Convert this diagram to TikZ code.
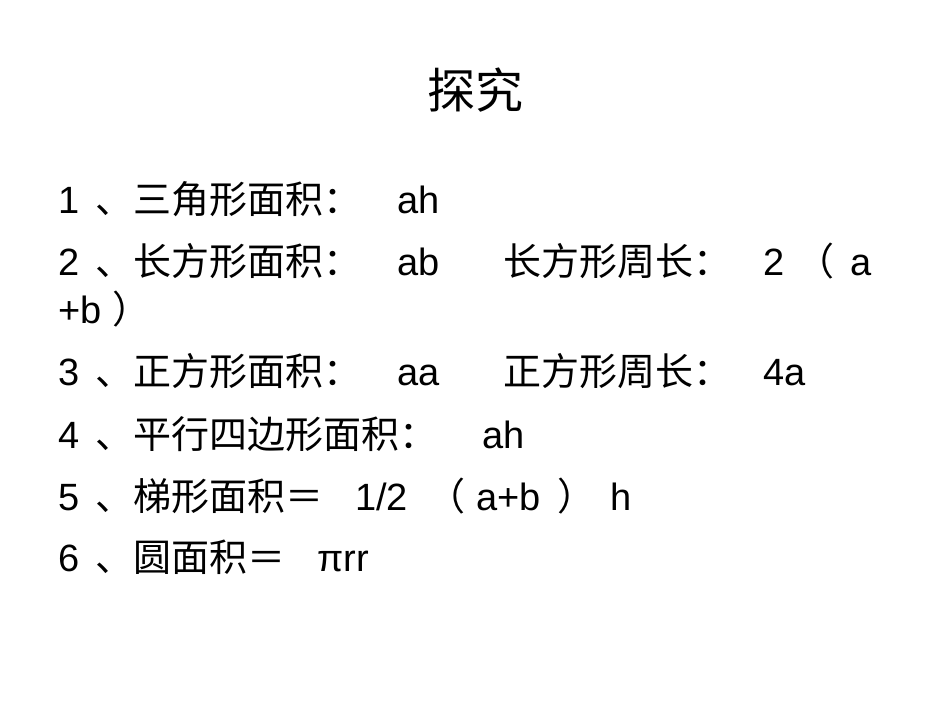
\documentclass[tikz,border=0pt]{standalone}
\usepackage{fontspec}
\setmainfont{Liberation Sans}
\newfontfamily\cjk{Noto Sans CJK SC}
\tikzset{seg/.style={anchor=base west,inner sep=0pt,font=\fontsize{38}{40}\selectfont}}
\newcommand{\sg}[4]{\node[seg] (#1) at (#2pt,{713pt-#3pt-14pt}) {#4};}
\begin{document}
\begin{tikzpicture}[x=1pt,y=1pt]
\useasboundingbox (0,0) rectangle (950,713);
\node[inner sep=0pt,font=\cjk\fontsize{48}{50}\selectfont] (title) at (475,{713-90}) {探究};
\sg{a1}{58}{200}{1}
\sg{a2}{95}{200}{\cjk 、三角形面积：}
\sg{a3}{397}{200}{ah}
\sg{b1}{58}{262}{2}
\sg{b2}{95}{262}{\cjk 、长方形面积：}
\sg{b3}{397}{262}{ab}
\sg{b4}{503}{262}{\cjk 长方形周长：}
\sg{b5}{763}{262}{2}
\sg{b6}{796}{262}{\cjk （}
\sg{b7}{850}{262}{a}
\sg{c1}{58}{310}{+b}
\sg{c2}{112}{310}{\cjk ）}
\sg{d1}{58}{372}{3}
\sg{d2}{95}{372}{\cjk 、正方形面积：}
\sg{d3}{397}{372}{aa}
\sg{d4}{503}{372}{\cjk 正方形周长：}
\sg{d5}{763}{372}{4a}
\sg{e1}{58}{434}{4}
\sg{e2}{95}{434}{\cjk 、平行四边形面积：}
\sg{e3}{482}{434}{ah}
\sg{f1}{58}{496}{5}
\sg{f2}{95}{496}{\cjk 、梯形面积＝}
\sg{f3}{355}{496}{1/2}
\sg{f4}{427}{496}{\cjk （}
\sg{f5}{476}{496}{a+b}
\sg{f6}{557}{496}{\cjk ）}
\sg{f7}{610}{496}{h}
\sg{g1}{58}{557}{6}
\sg{g2}{95}{557}{\cjk 、圆面积＝}
\sg{g3}{317}{557}{πrr}
\end{tikzpicture}
\end{document}
